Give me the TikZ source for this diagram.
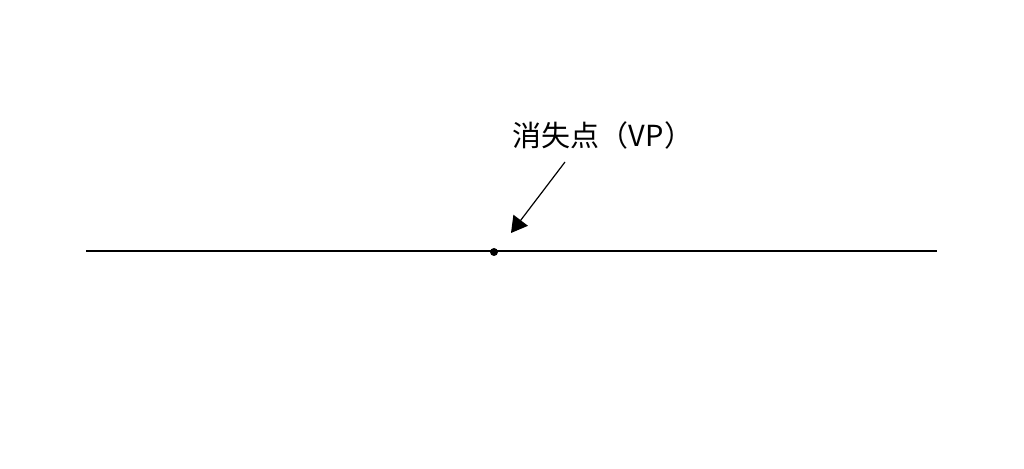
\documentclass[tikz,border=0pt]{standalone}
\usepackage{fontspec}
\newfontfamily\cjkfont{Noto Sans CJK JP}
\usetikzlibrary{arrows.meta}
\begin{document}
\begin{tikzpicture}[x=1pt,y=1pt]
	\useasboundingbox (0,0) rectangle (1024,468);
	\coordinate (left) at (86,217);
	\coordinate (right) at (937,217);
	\node[circle,fill=black,inner sep=0pt,minimum size=8pt] (vp) at (494,216) {};
	\node[anchor=center,font=\cjkfont\fontsize{29}{33}\selectfont] (label) at (603,333) {消失点（VP）};
	\coordinate (tail) at (565,306);
	\coordinate (tip) at (511,235);
	\draw[line width=1.6pt] (left) -- (right);
	\draw[line width=1.2pt,-{Triangle[length=16pt,width=18pt]}] (tail) -- (tip);
\end{tikzpicture}
\end{document}
